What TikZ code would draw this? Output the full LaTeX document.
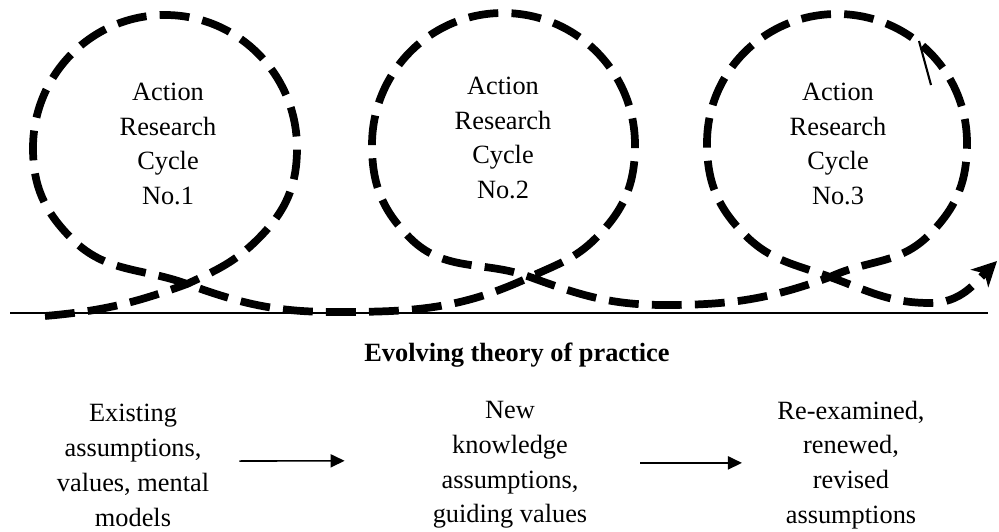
\documentclass[tikz,border=0pt]{standalone}
\usepackage{fontspec}
\setmainfont{Liberation Serif}
\usetikzlibrary{arrows.meta}
\begin{document}
\begin{tikzpicture}[x=0.02cm,y=0.02cm,
  spiral/.style={line width=4.4pt, dash pattern=on 17pt off 7.5pt},
  label text/.style={align=center, inner sep=0pt, font=\fontsize{15pt}{19.8pt}\selectfont},
  flow/.style={line width=0.9pt, -{Triangle[length=8pt,width=7.5pt]}}]
\useasboundingbox (0,0) rectangle (999,531);

% ground line of the evolving practice
\draw[line width=1.5pt] (10,218) -- (988,218);

% the three action research loops as one dashed spiral
\draw[spiral, -{Stealth[length=14pt,width=14pt,inset=4pt]}]
  (45,215) to[out=5,in=200] (187,247)
  to[out=25,in=225] (258,292)
  to[out=45,in=-90] (297,383)
  to[out=90,in=0] (165,516)
  to[out=180,in=90] (33,383)
  to[out=-90,in=135] (72,292)
  to[out=-45,in=160] (187,247)
  to[out=-20,in=180] (335,219)
  to[out=0,in=205] (530,254)
  to[out=25,in=225] (596,293)
  to[out=45,in=-90] (635,386)
  to[out=90,in=0] (503,518)
  to[out=180,in=90] (372,386)
  to[out=-90,in=135] (410,293)
  to[out=-45,in=160] (530,254)
  to[out=-20,in=180] (665,226)
  to[out=0,in=200] (830,254)
  to[out=25,in=225] (929,296)
  to[out=45,in=-90] (967,388)
  to[out=90,in=0] (837,517)
  to[out=180,in=90] (707,388)
  to[out=-90,in=135] (745,296)
  to[out=-45,in=160] (830,254)
  to[out=-20,in=180] (930,228)
  to[out=0,in=225] (997,270);

% small tick on the third loop
\draw[line width=1.2pt] (919,490) -- (931,446);

% cycle labels
\node[label text] (c1) at (168,387) {Action\\Research\\Cycle\\No.1};
\node[label text] (c2) at (503,393) {Action\\Research\\Cycle\\No.2};
\node[label text] (c3) at (838,387) {Action\\Research\\Cycle\\No.3};

% caption under the line
\node[label text, font=\fontsize{15pt}{19.8pt}\selectfont\bfseries] (theory) at (517,176) {Evolving theory of practice};

% stages of the theory
\node[label text] (s1) at (133,65.5) {Existing\\assumptions,\\values, mental\\models};
\node[label text] (s2) at (510,66) {New\\knowledge\\assumptions,\\guiding values};
\node[label text] (s3) at (851,66) {Re-examined,\\renewed,\\revised\\assumptions};

\draw[flow, shorten <=17pt, shorten >=50pt] ([yshift=2.5pt]s1.east) -- ([yshift=2.5pt]s2.west);
\draw[flow, shorten <=30pt, shorten >=20pt] ([yshift=1.2pt]s2.east) -- ([yshift=1.2pt]s3.west);
\end{tikzpicture}
\end{document}
